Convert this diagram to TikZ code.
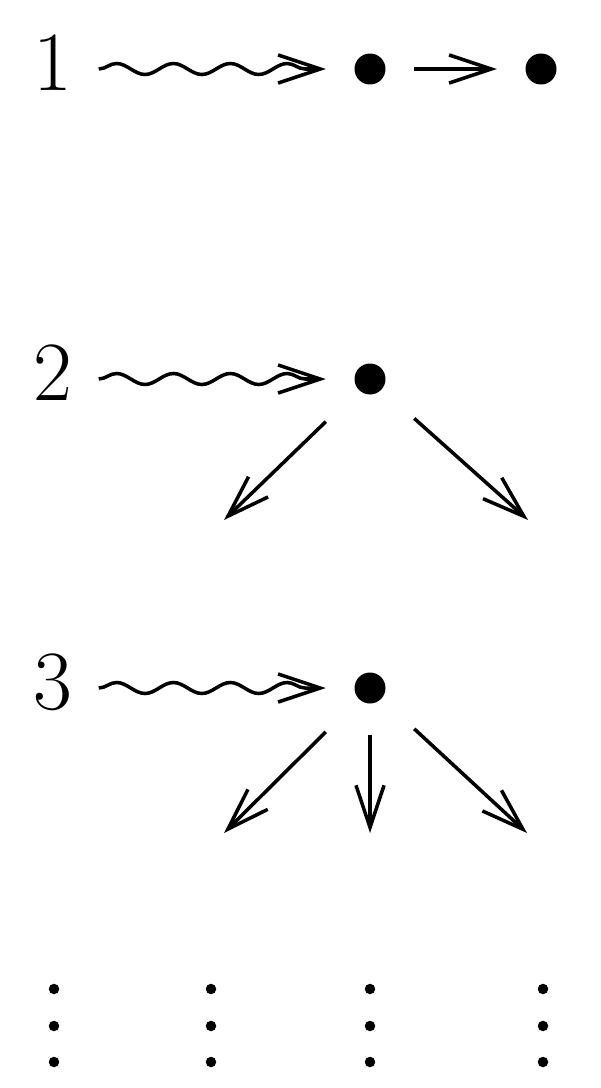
\documentclass[tikz,border=0pt]{standalone}
\usepackage{amsmath}
\usepackage{tikz}
\usetikzlibrary{arrows.meta,decorations.pathmorphing}

\begin{document}
\begin{tikzpicture}[x=0.02cm, y=-0.02cm, line width=2pt,
      >={Straight Barb[length=24pt,width=16pt]},
      font=\fontsize{48}{58}\selectfont]
    \tikzstyle{num} = [inner sep=0pt, minimum width=1.76cm, text height=31pt, text depth=7pt]
    \tikzstyle{bull} = [inner sep=0pt, minimum width=1.7cm, minimum height=1.8cm,
      path picture={\fill (path picture bounding box.center) circle (0.31cm);}]
    \tikzstyle{squig} = [->, decorate, decoration={snake, amplitude=0.11cm, segment length=1.138cm, post length=0.06cm}]
    \useasboundingbox (0,0) rectangle (600,1088);
    % first row
    \node [num] (one) at (53,69) {1};
    \node [bull] (d1) at (370,69) {};
    \node [bull] (d1r) at (541,69) {};
    % second row
    \node [num] (two) at (53,379) {2};
    \node [bull] (d2) at (370,379) {};
    \coordinate (d2l) at (224,520);
    \coordinate (d2r) at (528,520);
    % third row
    \node [num] (three) at (53,688) {3};
    \node [bull] (d3) at (370,688) {};
    \coordinate (d3l) at (224,833);
    \coordinate (d3m) at (370,833);
    \coordinate (d3r) at (527,833);
    \draw[squig] (one) -- (d1);
    \draw[->] (d1) -- (d1r);
    \draw[squig] (two) -- (d2);
    \draw[->] (d2) -- (d2l);
    \draw[->] (d2) -- (d2r);
    \draw[squig] (three) -- (d3);
    \draw[->] (d3) -- (d3l);
    \draw[->] (d3) -- (d3m);
    \draw[->] (d3) -- (d3r);
    % and so on
    \foreach \x in {54,211,370,543}
      \foreach \y in {989,1026,1062}
        \fill (\x,\y) circle (0.105cm);
\end{tikzpicture}
\end{document}
